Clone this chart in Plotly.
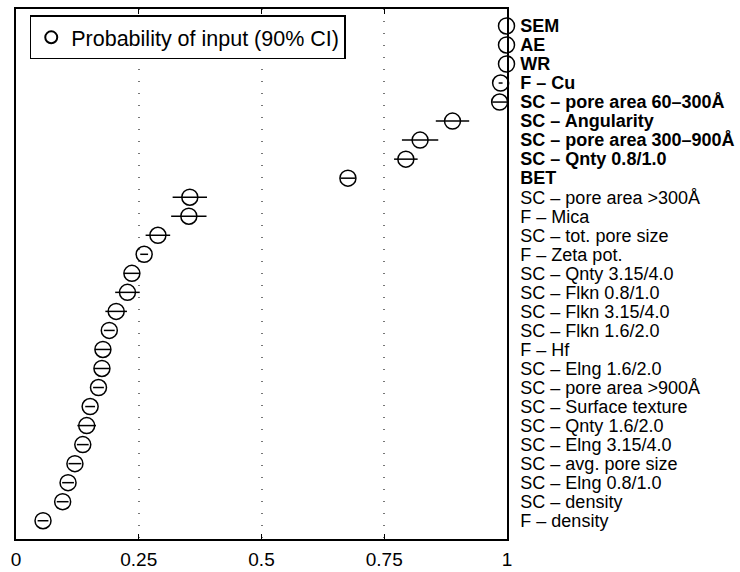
import plotly.graph_objects as go

labels = [
    "SEM", "AE", "WR", "F – Cu", "SC – pore area 60–300Å", "SC – Angularity",
    "SC – pore area 300–900Å", "SC – Qnty 0.8/1.0", "BET",
    "SC – pore area >300Å", "F – Mica", "SC – tot. pore size", "F – Zeta pot.",
    "SC – Qnty 3.15/4.0", "SC – Flkn 0.8/1.0", "SC – Flkn 3.15/4.0",
    "SC – Flkn 1.6/2.0", "F – Hf", "SC – Elng 1.6/2.0", "SC – pore area >900Å",
    "SC – Surface texture", "SC – Qnty 1.6/2.0", "SC – Elng 3.15/4.0",
    "SC – avg. pore size", "SC – Elng 0.8/1.0", "SC – density", "F – density",
]
bold_count = 9
probability = [
    0.999, 0.999, 0.999, 0.987, 0.985, 0.889, 0.823, 0.794, 0.676,
    0.354, 0.352, 0.289, 0.261, 0.236, 0.227, 0.204, 0.190, 0.177,
    0.175, 0.168, 0.151, 0.144, 0.136, 0.120, 0.106, 0.095, 0.055,
]
ci_half = [
    0.0, 0.0, 0.0, 0.004, 0.015, 0.034, 0.037, 0.024, 0.015,
    0.035, 0.036, 0.025, 0.008, 0.016, 0.025, 0.022, 0.011, 0.016,
    0.016, 0.011, 0.010, 0.019, 0.012, 0.013, 0.012, 0.012, 0.011,
]
x_ticks = [0, 0.25, 0.5, 0.75, 1]
x_ticktext = ["0", "0.25", "0.5", "0.75", "1"]

n = len(labels)
ypos = [n - 1 - i for i in range(n)]
ticktext = [("<b>%s</b>" % t) if i < bold_count else t for i, t in enumerate(labels)]

FONT = "Liberation Sans, Arial, Helvetica, sans-serif"

fig = go.Figure()
fig.add_trace(go.Scatter(
    x=probability, y=ypos, mode="markers",
    name="Probability of input (90% CI)",
    cliponaxis=False,
    marker=dict(symbol="circle-open", size=16, color="black", line=dict(width=1.5, color="black")),
    error_x=dict(type="data", array=ci_half, color="black", thickness=1.5, width=0),
))

fig.update_layout(
    width=740, height=572,
    margin=dict(l=16, r=233, t=9, b=33, autoexpand=False),
    paper_bgcolor="white", plot_bgcolor="white",
    font=dict(family=FONT, size=18, color="black"),
    showlegend=True,
    legend=dict(
        x=0.028, y=0.988, xanchor="left", yanchor="top",
        bordercolor="black", borderwidth=1.5, bgcolor="white",
        font=dict(size=21.5, family=FONT),
        itemsizing="constant",
        tracegroupgap=0,
    ),
    xaxis=dict(
        range=[0, 1], tickvals=x_ticks, ticktext=x_ticktext,
        showline=True, linecolor="black", linewidth=1.5, mirror="ticks",
        ticks="inside", ticklen=5, tickcolor="black", tickwidth=1,
        showgrid=True, gridcolor="#777777", griddash="1px,11px", gridwidth=1.5,
        zeroline=False, tickfont=dict(size=19), ticklabelstandoff=2,
        automargin=False,
    ),
    yaxis=dict(
        range=[-0.96, n - 1 + 0.89], side="right",
        tickvals=ypos, ticktext=ticktext,
        showline=True, linecolor="black", linewidth=1.5, mirror=True,
        ticks="", showgrid=False, zeroline=False,
        tickfont=dict(size=18), ticklabelstandoff=8,
        automargin=False,
    ),
)

fig.write_html("out.html")
